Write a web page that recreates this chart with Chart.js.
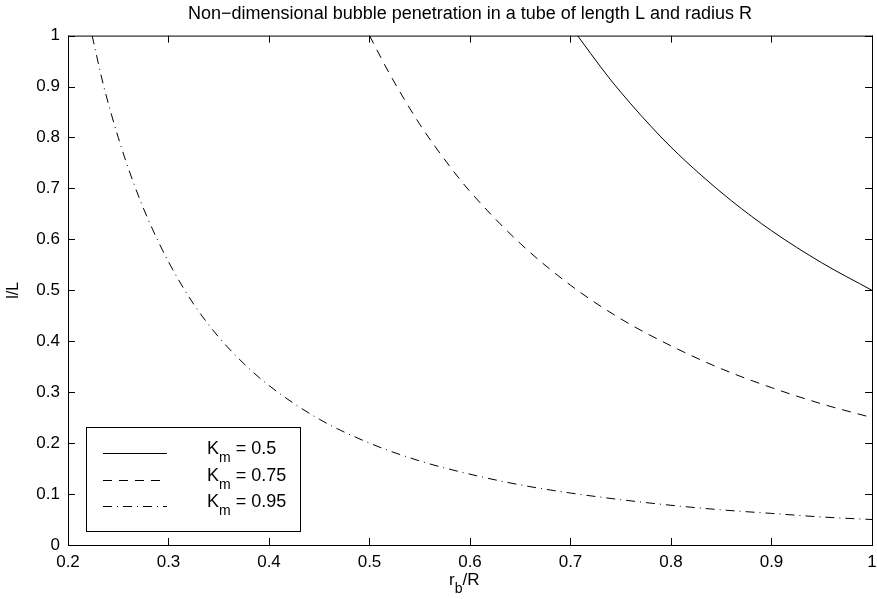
<!DOCTYPE html>
<html>
<head>
    <title>Bubble penetration</title>
    <script src="https://cdn.jsdelivr.net/npm/chart.js"></script>
    <style>
        body { margin: 0; background: #fff; }
    </style>
</head>
<body>
    <canvas id="grafik" width="877" height="599"></canvas>
</body>
<script>
    // values
    const rKm050 = [0.707, 0.72, 0.74, 0.76, 0.78, 0.8, 0.83, 0.86, 0.9, 0.95, 1.0];
    const lKm050 = [1.0, 0.965, 0.913, 0.866, 0.822, 0.781, 0.726, 0.676, 0.617, 0.554, 0.5];

    const rKm075 = [0.5, 0.52, 0.55, 0.58, 0.6, 0.65, 0.7, 0.75, 0.8, 0.85, 0.9, 0.95, 1.0];
    const lKm075 = [1.0, 0.925, 0.826, 0.743, 0.694, 0.592, 0.51, 0.444, 0.391, 0.346, 0.309, 0.277, 0.25];

    const rKm095 = [0.224, 0.235, 0.25, 0.265, 0.28, 0.3, 0.325, 0.35, 0.375, 0.4, 0.45, 0.5,
                    0.55, 0.6, 0.65, 0.7, 0.75, 0.8, 0.85, 0.9, 0.95, 1.0];
    const lKm095 = [1.0, 0.905, 0.8, 0.712, 0.638, 0.556, 0.473, 0.408, 0.356, 0.313, 0.247, 0.2,
                    0.165, 0.139, 0.118, 0.102, 0.089, 0.078, 0.069, 0.062, 0.055, 0.05];

    const legendLabels = ['0.5', '0.75', '0.95'];
    const dashes = [[], [9, 7], [9, 5, 1, 5]];

    const xTicks = [0.2, 0.3, 0.4, 0.5, 0.6, 0.7, 0.8, 0.9, 1];
    const yTicks = [0, 0.1, 0.2, 0.3, 0.4, 0.5, 0.6, 0.7, 0.8, 0.9, 1];

    const FONT = 'Liberation Sans, Arial, sans-serif';

    function toPoints(xs, ys) {
        return xs.map((x, i) => ({ x: x, y: ys[i] }));
    }

    function fmt(v) {
        return String(Number(v.toFixed(1)));
    }

    // text with a subscript: [main, sub, rest]
    function subText(c, x, y, main, sub, rest, size) {
        c.font = size + 'px ' + FONT;
        c.fillText(main, x, y);
        const w1 = c.measureText(main).width;
        c.font = Math.round(size * 0.8) + 'px ' + FONT;
        c.fillText(sub, x + w1, y + 8);
        const w2 = c.measureText(sub).width;
        c.font = size + 'px ' + FONT;
        c.fillText(rest, x + w1 + w2, y);
    }

    // box, inward ticks on all four sides and the legend, MATLAB style
    const matlabBox = {
        id: 'matlabBox',
        afterDraw(chart) {
            const c = chart.ctx;
            const a = chart.chartArea;
            const sx = chart.scales.x;
            const sy = chart.scales.y;
            c.save();
            c.strokeStyle = '#000';
            c.lineWidth = 1;
            c.setLineDash([]);
            c.strokeRect(a.left + 0.5, a.top + 0.5, a.right - a.left, a.bottom - a.top);
            c.beginPath();
            xTicks.forEach(t => {
                const px = Math.round(sx.getPixelForValue(t)) + 0.5;
                c.moveTo(px, a.bottom); c.lineTo(px, a.bottom - 7);
                c.moveTo(px, a.top); c.lineTo(px, a.top + 7);
            });
            yTicks.forEach(t => {
                const py = Math.round(sy.getPixelForValue(t)) + 0.5;
                c.moveTo(a.left, py); c.lineTo(a.left + 7, py);
                c.moveTo(a.right, py); c.lineTo(a.right - 7, py);
            });
            c.stroke();

            // x axis title r_b/R
            c.fillStyle = '#000';
            c.textBaseline = 'alphabetic';
            c.textAlign = 'left';
            subText(c, 449, 585, 'r', 'b', '/R', 17);

            // legend
            const bx = 86, by = 427, bw = 214, bh = 104;
            c.fillStyle = '#fff';
            c.fillRect(bx, by, bw, bh);
            c.strokeRect(bx + 0.5, by + 0.5, bw, bh);
            legendLabels.forEach((lab, i) => {
                const ry = 453 + i * 26.5;
                c.setLineDash(dashes[i]);
                c.beginPath();
                c.moveTo(103, Math.round(ry) + 0.5);
                c.lineTo(167, Math.round(ry) + 0.5);
                c.stroke();
                c.setLineDash([]);
                c.fillStyle = '#000';
                subText(c, 207, ry + 1, 'K', 'm', ' = ' + lab, 18);
            });
            c.restore();
        }
    };

    const ctx = document.getElementById('grafik').getContext('2d');

    var grafik = new Chart(ctx, {
        type: 'line',
        data: {
            datasets: [
                { label: 'Km = 0.5', data: toPoints(rKm050, lKm050), borderDash: dashes[0] },
                { label: 'Km = 0.75', data: toPoints(rKm075, lKm075), borderDash: dashes[1] },
                { label: 'Km = 0.95', data: toPoints(rKm095, lKm095), borderDash: dashes[2] }
            ].map(d => Object.assign(d, {
                borderColor: '#000',
                borderWidth: 1,
                pointRadius: 0,
                fill: false,
                cubicInterpolationMode: 'monotone'
            }))
        },
        options: {
            responsive: false,
            animation: false,
            layout: { padding: { left: 4, right: 5, top: 0, bottom: 0 } },
            scales: {
                x: {
                    type: 'linear',
                    min: 0.2,
                    max: 1,
                    afterBuildTicks: axis => { axis.ticks = xTicks.map(v => ({ value: v })); },
                    afterFit: axis => { axis.height = 54; axis.paddingLeft = 0; axis.paddingRight = 0; },
                    ticks: { callback: fmt, color: '#000', font: { family: FONT, size: 17 }, padding: 7, maxRotation: 0 },
                    grid: { display: false, drawTicks: false },
                    border: { display: false },
                    title: { display: false }
                },
                y: {
                    type: 'linear',
                    min: 0,
                    max: 1,
                    afterBuildTicks: axis => { axis.ticks = yTicks.map(v => ({ value: v })); },
                    afterFit: axis => { axis.width = 64; axis.paddingTop = 0; axis.paddingBottom = 0; },
                    ticks: { callback: fmt, color: '#000', font: { family: FONT, size: 17 }, padding: 8 },
                    grid: { display: false, drawTicks: false },
                    border: { display: false },
                    title: { display: true, text: 'l/L', color: '#000', font: { family: FONT, size: 16 }, padding: { top: 0, bottom: 6 } }
                }
            },
            plugins: {
                legend: { display: false },
                tooltip: { enabled: false },
                title: {
                    display: true,
                    fullSize: false,
                    text: 'Non\u2212dimensional bubble penetration in a tube of length L and radius R',
                    color: '#000',
                    font: { family: FONT, size: 18, weight: 'normal' },
                    padding: { top: 3, bottom: 11 }
                }
            }
        },
        plugins: [matlabBox]
    });
</script>
</html>
